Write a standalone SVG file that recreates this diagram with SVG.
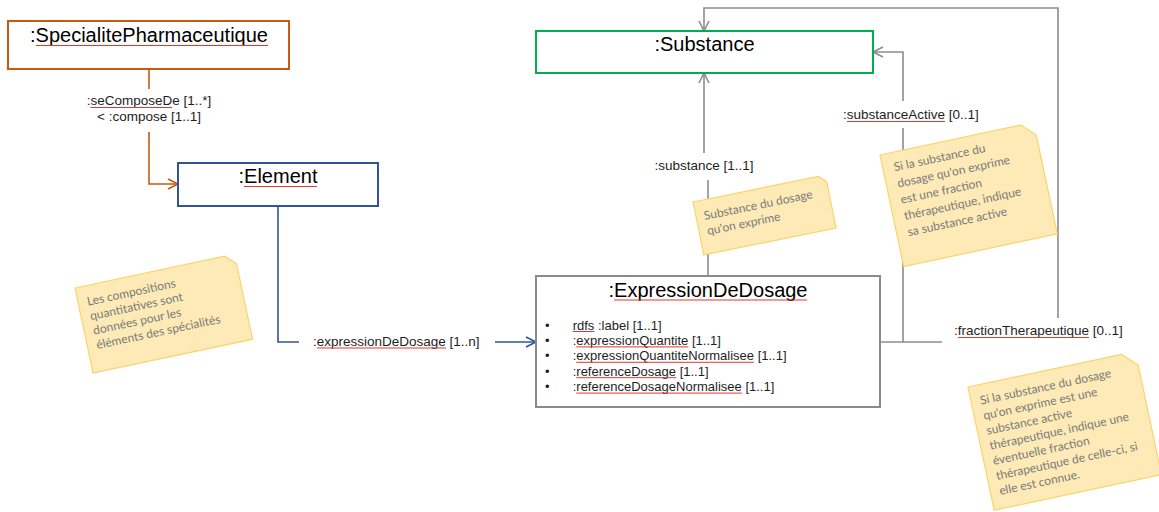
<svg xmlns="http://www.w3.org/2000/svg" width="1159" height="512" viewBox="0 0 1159 512">
<style>
.t{font-family:"Liberation Sans",Arial,sans-serif;fill:#000}
.title{font-size:20px}
.lbl{font-size:13.5px;fill:#1e1e1e}
.li{font-size:13px;fill:#1e1e1e}
.box{fill:#fff;stroke-width:2}
.con{fill:none;stroke-width:1.6}
.ul{stroke:#e8372c;stroke-width:1;fill:none}
.note path{fill:#fdeab6;stroke:#fbd36a;stroke-width:1.2}
.note text{font-family:Lato,"Open Sans",sans-serif;font-size:12px;fill:#7a7a7a}
</style>
<defs>
<marker id="aO" markerUnits="userSpaceOnUse" markerWidth="14" markerHeight="14" refX="11" refY="6" orient="auto"><path d="M1,1 L11,6 L1,11" fill="none" stroke="#c55a11" stroke-width="1.6"/></marker>
<marker id="aB" markerUnits="userSpaceOnUse" markerWidth="14" markerHeight="14" refX="11" refY="6" orient="auto"><path d="M1,1 L11,6 L1,11" fill="none" stroke="#2f5597" stroke-width="1.6"/></marker>
<marker id="aG" markerUnits="userSpaceOnUse" markerWidth="14" markerHeight="14" refX="11" refY="6" orient="auto"><path d="M1,1 L11,6 L1,11" fill="none" stroke="#8c8c8c" stroke-width="1.6"/></marker>
</defs>
<rect width="1159" height="512" fill="#fff"/>

<g id="connectors">
  <path class="con" stroke="#c55a11" d="M149,69 V89"/>
  <path class="con" stroke="#c55a11" d="M149,132 V184 H178" marker-end="url(#aO)"/>
  <text class="t lbl" x="149" y="105" text-anchor="middle">:seComposeDe [1..*]</text>
  <line class="ul" x1="90.5" y1="107.5" x2="172" y2="107.5"/>
  <text class="t lbl" x="149" y="121" text-anchor="middle">&lt; :compose [1..1]</text>

  <path class="con" stroke="#2f5597" d="M278,206 V342 H299"/>
  <path class="con" stroke="#2f5597" d="M495,342 H536" marker-end="url(#aB)"/>
  <text class="t lbl" x="313" y="345.5">:expressionDeDosage [1..n]</text>
  <line class="ul" x1="317" y1="348" x2="446" y2="348"/>

  <path class="con" stroke="#8c8c8c" d="M708,276 V180"/>
  <path class="con" stroke="#8c8c8c" d="M704,153 V73" marker-end="url(#aG)"/>
  <text class="t lbl" x="704" y="170" text-anchor="middle">:substance [1..1]</text>

  <path class="con" stroke="#8c8c8c" d="M880,342 H942"/>
  <path class="con" stroke="#8c8c8c" d="M903,342 V128"/>
  <path class="con" stroke="#8c8c8c" d="M903,101 V52 H873" marker-end="url(#aG)"/>
  <text class="t lbl" x="843" y="119">:substanceActive [0..1]</text>
  <line class="ul" x1="847" y1="121.5" x2="945" y2="121.5"/>

  <path class="con" stroke="#8c8c8c" d="M1058,318 V8 H704 V31" marker-end="url(#aG)"/>
  <text class="t lbl" x="954" y="335">:fractionTherapeutique [0..1]</text>
  <line class="ul" x1="958" y1="337.5" x2="1089" y2="337.5"/>
</g>

<g id="node-specialite">
  <rect class="box" x="8" y="21" width="281" height="48" stroke="#c55a11"/>
  <text class="t title" x="149" y="42" text-anchor="middle">:SpecialitePharmaceutique</text>
  <line class="ul" x1="36" y1="45.5" x2="268" y2="45.5"/>
</g>

<g id="node-element">
  <rect class="box" x="178" y="163" width="200" height="43" stroke="#2f5597"/>
  <text class="t title" x="278" y="183" text-anchor="middle">:Element</text>
  <line class="ul" x1="244" y1="186.5" x2="317" y2="186.5"/>
</g>

<g id="node-substance">
  <rect class="box" x="536" y="31" width="337" height="42" stroke="#00b050"/>
  <text class="t title" x="704.5" y="51" text-anchor="middle">:Substance</text>
</g>

<g id="node-expression">
  <rect class="box" x="536" y="276" width="344" height="131" stroke="#8a8a8a"/>
  <text class="t title" x="708" y="296.5" text-anchor="middle">:ExpressionDeDosage</text>
  <line class="ul" x1="614" y1="300" x2="807" y2="300"/>
  <g class="t li">
    <text x="545" y="329.5">•</text>
    <text x="545" y="344.9">•</text>
    <text x="545" y="360.3">•</text>
    <text x="545" y="375.7">•</text>
    <text x="545" y="391.1">•</text>
    <text x="572.7" y="329.5">rdfs :label [1..1]</text>
    <text x="572.7" y="344.9">:expressionQuantite [1..1]</text>
    <text x="572.7" y="360.3">:expressionQuantiteNormalisee [1..1]</text>
    <text x="572.7" y="375.7">:referenceDosage [1..1]</text>
    <text x="572.7" y="391.1">:referenceDosageNormalisee [1..1]</text>
  </g>
  <line class="ul" x1="572.7" y1="331.5" x2="594.4" y2="331.5"/>
  <line class="ul" x1="576.3" y1="346.9" x2="688.3" y2="346.9"/>
  <line class="ul" x1="576.3" y1="362.3" x2="754" y2="362.3"/>
  <line class="ul" x1="576.3" y1="377.7" x2="676" y2="377.7"/>
  <line class="ul" x1="576.3" y1="393.1" x2="741.8" y2="393.1"/>
</g>

<g id="note-compositions" class="note" transform="translate(75,288) rotate(-12)">
  <path d="M0,0 H153 L163,10 V87 H0 Z"/>
  <text x="9" y="20"><tspan x="9">Les compositions</tspan><tspan x="9" dy="14.8">quantitatives sont</tspan><tspan x="9" dy="14.8">données pour les</tspan><tspan x="9" dy="14.8">éléments des spécialités</tspan></text>
</g>

<g id="note-substance" class="note" transform="translate(693,202) rotate(-11.5)">
  <path d="M0,0 H128 L135,7 V54 H0 Z"/>
  <text x="8" y="20"><tspan x="8">Substance du dosage</tspan><tspan x="8" dy="15.4">qu'on exprime</tspan></text>
</g>

<g id="note-substance-active" class="note" transform="translate(880,155) rotate(-12)">
  <path d="M0,0 H144 L157,13 V114 H0 Z"/>
  <text x="11" y="19"><tspan x="11">Si la substance du</tspan><tspan x="11" dy="16.6">dosage qu'on exprime</tspan><tspan x="11" dy="16.6">est une fraction</tspan><tspan x="11" dy="16.6">thérapeutique, indique</tspan><tspan x="11" dy="16.6">sa substance active</tspan></text>
</g>

<g id="note-fraction" class="note" transform="translate(968,387) rotate(-12)">
  <path d="M0,0 H157 L171,14 V126 H0 Z"/>
  <text x="9" y="20"><tspan x="9">Si la substance du dosage</tspan><tspan x="9" dy="15.4">qu'on exprime est une</tspan><tspan x="9" dy="15.4">substance active</tspan><tspan x="9" dy="15.4">thérapeutique, indique une</tspan><tspan x="9" dy="15.4">éventuelle fraction</tspan><tspan x="9" dy="15.4">thérapeutique de celle-ci, si</tspan><tspan x="9" dy="15.4">elle est connue.</tspan></text>
</g>
</svg>
